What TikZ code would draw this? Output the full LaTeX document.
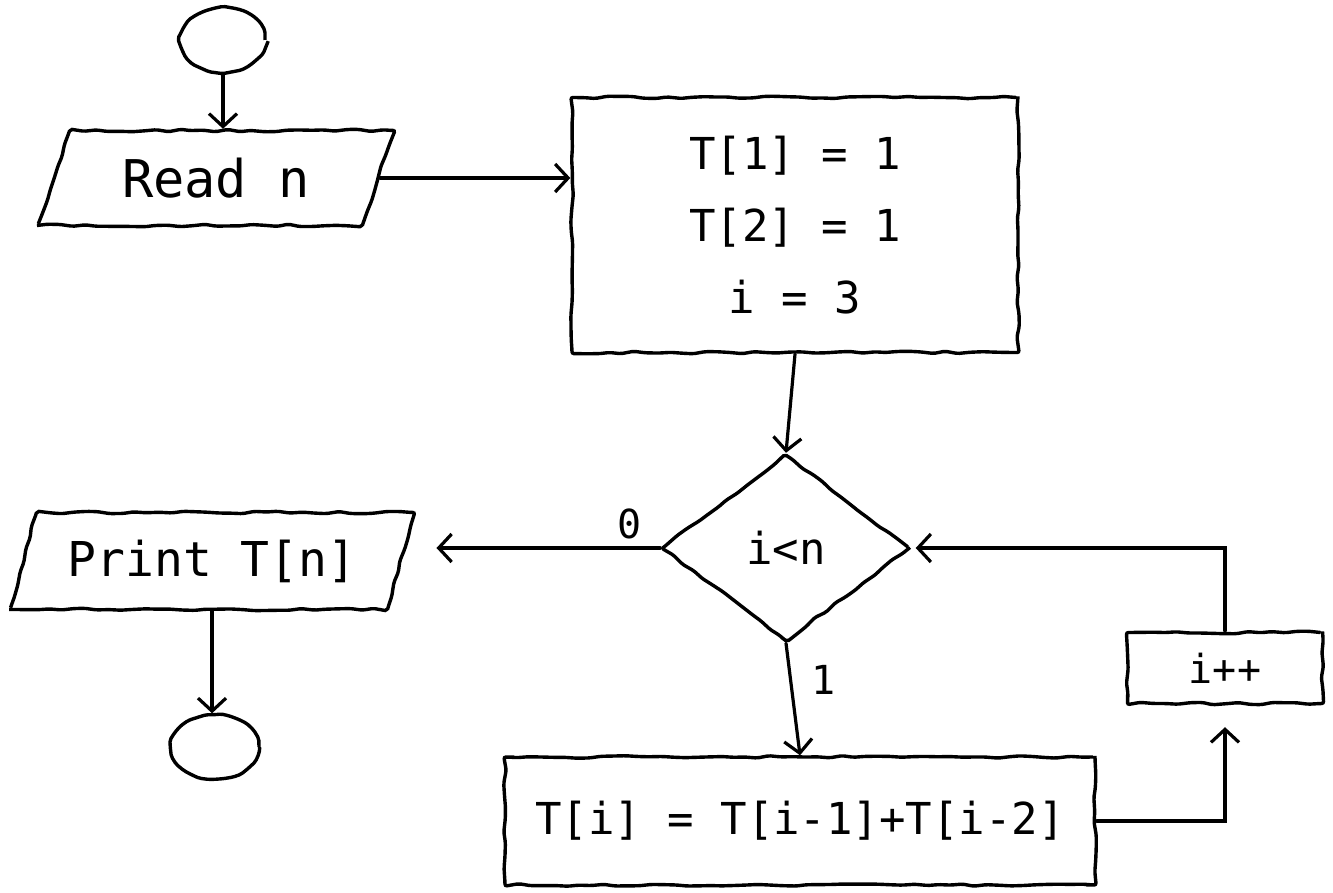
\documentclass[tikz,border=0pt]{standalone}
\usepackage{fontspec}
\setmonofont{DejaVu Sans Mono}
\usetikzlibrary{shapes.geometric,arrows.meta,decorations.pathmorphing,calc}
\begin{document}
\pgfmathsetseed{11}
\begin{tikzpicture}[x=1pt,y=-1pt,
  sketch/.style={decorate,decoration={random steps,segment length=12pt,amplitude=1.3pt}},
  shp/.style={draw,line width=3.4pt,sketch,rounded corners=2pt,inner sep=0pt,
    font=\ttfamily\fontsize{44}{72}\selectfont},
  term/.style={shp,ellipse,decoration={random steps,segment length=9pt,amplitude=0.8pt}},
  io/.style={shp,trapezium,trapezium stretches=true,
    trapezium left angle=63,trapezium right angle=117},
  proc/.style={shp,rectangle,align=center},
  test/.style={shp,diamond},
  flow/.style={line width=3.2pt,line cap=round,
    -{Straight Barb[length=13pt,width=28pt,line width=3.2pt]}},
  lbl/.style={font=\ttfamily\fontsize{40}{48}\selectfont}
  ]
  \fill[white] (0,0) rectangle (1333,893);
  \useasboundingbox (0,0) rectangle (1333,893);

  % terminals
  \node[term,minimum width=84pt,minimum height=64pt] (start) at (223,40) {};
  \node[term,minimum width=88pt,minimum height=64pt] (stop) at (215,747) {};

  % input / output
  \node[io,minimum width=357pt,minimum height=95pt,font=\ttfamily\fontsize{52}{60}\selectfont]
    (read) at (216,178) {Read n};
  \node[io,minimum width=404pt,minimum height=97pt,font=\ttfamily\fontsize{48}{56}\selectfont]
    (print) at (212,561) {Print T[n]};

  % initialisation
  \node[proc,minimum width=446pt,minimum height=255pt] (init) at (795,225)
    {T[1] = 1\\T[2] = 1\\i = 3};

  % loop test
  \node[test,minimum width=248pt,minimum height=187pt,aspect=1.33] (cond) at (786,548) {i<n};

  % loop body and increment
  \node[proc,minimum width=590pt,minimum height=128pt] (body) at (800,821)
    {T[i] = T[i-1]+T[i-2]};
  \node[proc,minimum width=195pt,minimum height=71pt,font=\ttfamily\fontsize{40}{48}\selectfont]
    (inc) at (1225,668) {i++};

  % connectors
  \draw[flow] (start.south) -- (start.south |- read.north);
  \draw[flow] (read.east) -- (read.east -| init.west);
  \draw[flow] (init.south) -- (cond.north);
  \draw[flow,shorten >=34pt] (cond.west) -- (cond.west -| print.east)
    node[lbl,pos=0.12,above=4pt] {0};
  \draw[flow] (print.south) -- (print.south |- stop.north);
  \draw[flow] (cond.south) -- (body.north)
    node[lbl,pos=0.33,right=16pt] {1};
  \draw[flow,shorten >=22pt] (body.east) -| (inc.south);
  \draw[flow,shorten >=4pt] (inc.north) |- (cond.east);
\end{tikzpicture}
\end{document}
